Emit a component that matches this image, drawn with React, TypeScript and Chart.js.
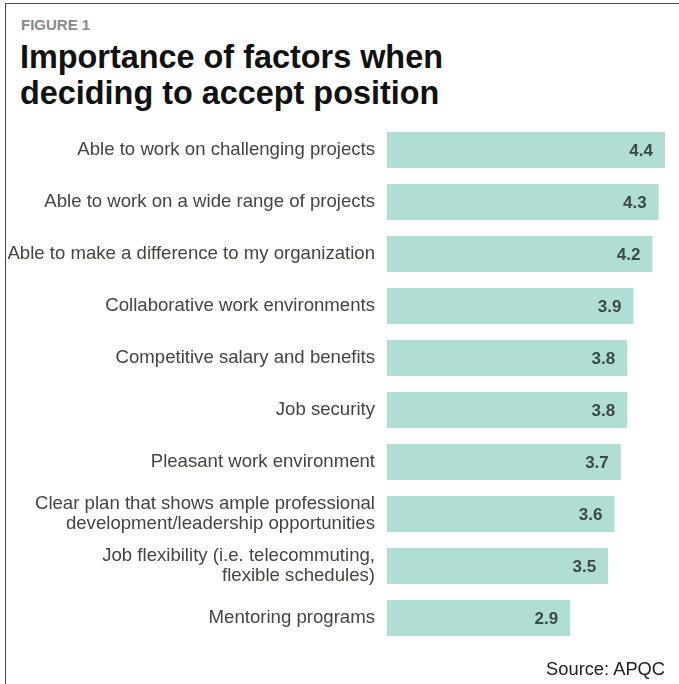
import React, { useEffect, useRef } from "react";
import { Chart, registerables } from "chart.js";

Chart.register(...registerables);

const categories: (string | string[])[] = [
  "Able to work on challenging projects",
  "Able to work on a wide range of projects",
  "Able to make a difference to my organization",
  "Collaborative work environments",
  "Competitive salary and benefits",
  "Job security",
  "Pleasant work environment",
  ["Clear plan that shows ample professional", "development/leadership opportunities"],
  ["Job flexibility (i.e. telecommuting,", "flexible schedules)"],
  "Mentoring programs",
];

const values: number[] = [4.4, 4.3, 4.2, 3.9, 3.8, 3.8, 3.7, 3.6, 3.5, 2.9];

const FONT = "'Liberation Sans', Arial, Helvetica, sans-serif";

const valueLabels = {
  id: "valueLabels",
  afterDatasetsDraw(chart: any) {
    const ctx = chart.ctx;
    const meta = chart.getDatasetMeta(0);
    ctx.save();
    ctx.font = `bold 17px ${FONT}`;
    ctx.fillStyle = "#3c4a46";
    ctx.textAlign = "right";
    ctx.textBaseline = "middle";
    meta.data.forEach((bar: any, i: number) => {
      const v = chart.data.datasets[0].data[i];
      ctx.fillText(Number(v).toFixed(1), bar.x - 12, bar.y + 1);
    });
    ctx.restore();
  },
};

export default function App() {
  const ref = useRef<HTMLCanvasElement>(null);
  useEffect(() => {
    if (!ref.current) return;
    const chart = new Chart(ref.current, {
      type: "bar",
      data: {
        labels: categories,
        datasets: [
          {
            data: values,
            backgroundColor: "#b1ded4",
            borderWidth: 0,
            categoryPercentage: 1,
            barPercentage: 0.69,
          },
        ],
      },
      options: {
        indexAxis: "y",
        responsive: false,
        animation: false,
        layout: { padding: { left: 0, right: 14, top: 124, bottom: 40 } },
        plugins: {
          legend: { display: false },
          tooltip: { enabled: false },
          title: { display: false },
        },
        scales: {
          x: { display: false, min: 0, max: 4.4 },
          y: {
            afterFit(scale: any) {
              scale.width = 387;
            },
            grid: { display: false, drawTicks: false },
            border: { display: false },
            ticks: {
              padding: 12,
              color: "#46453f",
              font: { family: FONT, size: 18.6, lineHeight: 1.07 },
              autoSkip: false,
            },
          },
        },
      },
      plugins: [valueLabels],
    });
    return () => chart.destroy();
  }, []);

  return (
    <div
      style={{
        position: "absolute",
        left: 0,
        top: 0,
        width: 679,
        height: 684,
        background: "#fff",
        overflow: "hidden",
        fontFamily: FONT,
      }}
    >
      <div
        style={{
          position: "absolute",
          left: 5,
          top: 3,
          width: 700,
          height: 700,
          borderLeft: "1.5px solid #444",
          borderTop: "1.5px solid #555",
        }}
      />
      <div
        style={{
          position: "absolute",
          left: 21,
          top: 17,
          fontSize: 15,
          lineHeight: "15px",
          fontWeight: "bold",
          color: "#8a8a8a",
        }}
      >
        FIGURE 1
      </div>
      <div
        style={{
          position: "absolute",
          left: 20,
          top: 39,
          fontSize: 32.4,
          lineHeight: "36px",
          fontWeight: "bold",
          color: "#111",
        }}
      >
        Importance of factors when
        <br />
        deciding to accept position
      </div>
      <canvas
        ref={ref}
        width={679}
        height={684}
        style={{ position: "absolute", left: 0, top: 0 }}
      />
      <div
        style={{
          position: "absolute",
          right: 14,
          top: 660,
          fontSize: 18.3,
          lineHeight: "18px",
          color: "#222",
        }}
      >
        Source: APQC
      </div>
    </div>
  );
}
